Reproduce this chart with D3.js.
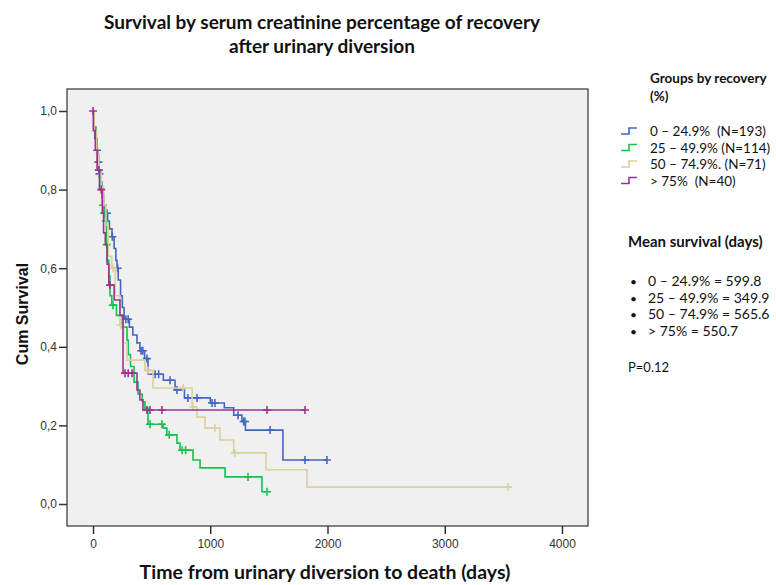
<!DOCTYPE html>
<head>
	<meta charset="utf-8">
	<script src="https://cdn.jsdelivr.net/npm/d3@7"></script>
	<style>
	    body { margin: 0; background: white; }
	    text { font-family: Lato, "Open Sans", sans-serif; fill: #111; white-space: pre; }
	    .tick-label { font-family: "Liberation Sans", Arial, sans-serif; font-size: 12px; fill: #333; }
	</style>
</head>
<body>
    <script>
        // Kaplan-Meier steps: time (days), cum survival after that time
        var blueTimes = [0, 5, 15, 25, 40, 50, 60, 75, 90, 102, 125, 140, 162, 180, 195, 205, 215, 235, 250, 265, 310, 340, 375, 400, 440, 469, 600, 700, 780, 1000, 1120, 1200, 1270, 1300, 1620];
        var blueSurv  = [1, 0.96, 0.93, 0.90, 0.87, 0.84, 0.82, 0.79, 0.76, 0.74, 0.72, 0.70, 0.68, 0.65, 0.62, 0.60, 0.57, 0.53, 0.50, 0.47, 0.45, 0.43, 0.41, 0.39, 0.37, 0.33, 0.315, 0.29, 0.27, 0.257, 0.245, 0.226, 0.21, 0.188, 0.112];
        var blueCensor = [35, 45, 55, 105, 120, 165, 210, 280, 300, 410, 425, 460, 530, 560, 657, 716, 810, 887, 1015, 1040, 1237, 1285, 1296, 1510, 1808, 1995];

        var greenTimes = [0, 10, 25, 35, 50, 65, 75, 80, 90, 105, 115, 120, 135, 145, 160, 200, 250, 290, 300, 320, 350, 384, 420, 443, 469, 600, 630, 716, 742, 853, 913, 1126, 1441];
        var greenSurv  = [1, 0.96, 0.93, 0.89, 0.85, 0.81, 0.78, 0.76, 0.74, 0.72, 0.66, 0.62, 0.58, 0.53, 0.506, 0.48, 0.45, 0.417, 0.38, 0.35, 0.31, 0.28, 0.26, 0.244, 0.203, 0.193, 0.176, 0.155, 0.137, 0.112, 0.092, 0.069, 0.031];
        var greenCensor = [50, 85, 95, 100, 110, 117, 170, 486, 588, 650, 760, 790, 1322, 1484];

        var beigeTimes = [0, 10, 30, 50, 70, 90, 110, 130, 160, 190, 230, 260, 290, 443, 512, 845, 887, 955, 1083, 1200, 1476, 1825];
        var beigeSurv  = [1, 0.95, 0.89, 0.84, 0.807, 0.76, 0.71, 0.63, 0.60, 0.53, 0.455, 0.41, 0.366, 0.34, 0.295, 0.247, 0.221, 0.193, 0.163, 0.13, 0.087, 0.043];
        var beigeCensor = [170, 235, 469, 768, 853, 1040, 1210, 3540];

        var purpleTimes = [0, 3, 20, 35, 55, 80, 90, 105, 120, 135, 180, 230, 256, 375, 400, 426];
        var purpleSurv  = [1, 0.95, 0.90, 0.85, 0.80, 0.74, 0.69, 0.66, 0.61, 0.557, 0.519, 0.48, 0.333, 0.29, 0.265, 0.239];
        var purpleCensor = [0, 50, 70, 145, 273, 300, 333, 460, 486, 588, 1484, 1808];

        var groupLabels = ["0 \u2013 24.9%  (N=193)", "25 \u2013 49.9% (N=114)", "50 \u2013 74.9%. (N=71)", "> 75%  (N=40)"];
        var meanLabels = ["0 \u2013 24.9% = 599.8", "25 \u2013 49.9% = 349.9", "50 \u2013 74.9% = 565.6", "> 75% = 550.7"];
        var colors = ["#4466c0", "#14c24e", "#d9d19c", "#a3308f"];
        var xTicks = [0, 1000, 2000, 3000, 4000];
        var yTicks = [0, 0.2, 0.4, 0.6, 0.8, 1.0];

        var series = [
            {times: blueTimes, surv: blueSurv, censor: blueCensor},
            {times: greenTimes, surv: greenSurv, censor: greenCensor},
            {times: beigeTimes, surv: beigeSurv, censor: beigeCensor},
            {times: purpleTimes, surv: purpleSurv, censor: purpleCensor}
        ];

        ///////////////////////////////////////////////////////////////////////////////

        var w = 776, h = 585;
        var box = {left: 67, top: 89, right: 588, bottom: 526};

        var svg = d3.select("body").append("svg")
            .attr("width", w)
            .attr("height", h);

        var xScale = d3.scaleLinear().domain([0, 4000]).range([93, 562]);
        var yScale = d3.scaleLinear().domain([0, 1]).range([504, 111]);

        svg.append("rect")
            .attr("x", box.left)
            .attr("y", box.top)
            .attr("width", box.right - box.left)
            .attr("height", box.bottom - box.top)
            .attr("fill", "#f0f0f0")
            .attr("stroke", "#333")
            .attr("stroke-width", 1.2);

        // axes
        var fmt = function(d) { return d3.format(".1f")(d).replace(".", ","); };

        var yAxis = svg.append("g")
            .attr("transform", "translate(" + box.left + ",0)")
            .call(d3.axisLeft(yScale).tickValues(yTicks).tickSize(8).tickFormat(fmt));
        var xAxis = svg.append("g")
            .attr("transform", "translate(0," + box.bottom + ")")
            .call(d3.axisBottom(xScale).tickValues(xTicks).tickSize(8).tickFormat(d3.format("d")));

        [xAxis, yAxis].forEach(function(a) {
            a.select(".domain").remove();
            a.selectAll(".tick line").attr("stroke", "#333").attr("stroke-width", 1.5);
            a.selectAll(".tick text").attr("class", "tick-label").attr("font-size", null).attr("font-family", null);
        });
        yAxis.selectAll(".tick text").attr("x", -10);
        xAxis.selectAll(".tick text").attr("y", 13);

        // curves
        var line = d3.line()
            .x(function(d) { return xScale(d[0]); })
            .y(function(d) { return yScale(d[1]); })
            .curve(d3.curveStepAfter);

        var survAt = function(s, t) {
            var i = d3.bisectRight(s.times, t) - 1;
            return s.surv[Math.max(i, 0)];
        };

        series.forEach(function(s, k) {
            var pts = s.times.map(function(t, i) { return [t, s.surv[i]]; });
            var end = d3.max(s.censor.concat(s.times));
            pts.push([end, s.surv[s.surv.length - 1]]);

            svg.append("path")
                .datum(pts)
                .attr("d", line)
                .attr("fill", "none")
                .attr("stroke", colors[k])
                .attr("stroke-width", 1.6);

            svg.append("g").selectAll("path")
                .data(s.censor)
                .enter()
                .append("path")
                .attr("d", function(t) {
                    var cx = xScale(t), cy = yScale(survAt(s, t));
                    return "M" + (cx - 4) + "," + cy + "H" + (cx + 4) + "M" + cx + "," + (cy - 4) + "V" + (cy + 4);
                })
                .attr("stroke", colors[k])
                .attr("stroke-width", 1.6);
        });

        // titles
        svg.append("text").attr("x", 322).attr("y", 29).attr("text-anchor", "middle")
            .attr("font-weight", "bold").attr("font-size", "19px")
            .text("Survival by serum creatinine percentage of recovery");
        svg.append("text").attr("x", 322).attr("y", 53).attr("text-anchor", "middle")
            .attr("font-weight", "bold").attr("font-size", "19px")
            .text("after urinary diversion");
        svg.append("text").attr("x", 325).attr("y", 579).attr("text-anchor", "middle")
            .attr("font-weight", "bold").attr("font-size", "19.5px")
            .text("Time from urinary diversion to death (days)");
        svg.append("text")
            .attr("transform", "translate(28,314) rotate(-90)")
            .attr("text-anchor", "middle")
            .style("font-family", "'Liberation Sans', Arial, sans-serif")
            .attr("font-weight", "bold").attr("font-size", "16px")
            .text("Cum Survival");

        // legend
        svg.append("text").attr("x", 650).attr("y", 83)
            .attr("font-weight", "bold").attr("font-size", "13.5px").text("Groups by recovery");
        svg.append("text").attr("x", 650).attr("y", 101)
            .attr("font-weight", "bold").attr("font-size", "13.5px").text("(%)");

        var leg = svg.append("g").selectAll("g")
            .data(groupLabels)
            .enter()
            .append("g")
            .attr("transform", function(d, i) { return "translate(0," + (131 + i * 16.5) + ")"; });
        leg.append("path")
            .attr("d", "M621,3H629V-3H637")
            .attr("fill", "none")
            .attr("stroke", function(d, i) { return colors[i]; })
            .attr("stroke-width", 1.6);
        leg.append("text")
            .attr("x", 650).attr("y", 5)
            .attr("font-size", "13.5px")
            .text(function(d) { return d; });

        svg.append("text").attr("x", 628).attr("y", 247)
            .attr("font-weight", "bold").attr("font-size", "15px").text("Mean survival (days)");

        var mean = svg.append("g").selectAll("g")
            .data(meanLabels)
            .enter()
            .append("g")
            .attr("transform", function(d, i) { return "translate(0," + (286 + i * 16.5) + ")"; });
        mean.append("text").attr("x", 630).attr("font-size", "12px").text("\u2022");
        mean.append("text").attr("x", 648).attr("font-size", "14px").text(function(d) { return d; });

        svg.append("text").attr("x", 628).attr("y", 372)
            .attr("font-size", "13px").text("P=0.12");

    </script>
</body>
